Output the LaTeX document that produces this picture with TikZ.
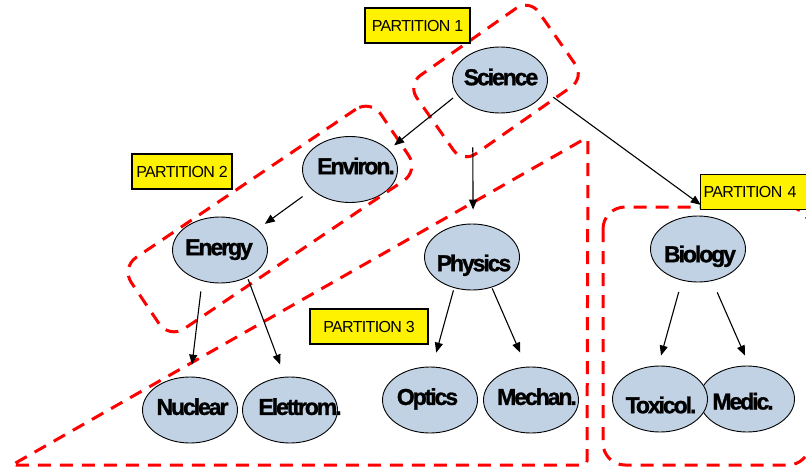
\documentclass[tikz,border=0pt]{standalone}
\usepackage{fontspec}
\setmainfont{Liberation Sans}
\newfontfamily\conceptfont[LetterSpace=-9, BoldFeatures={FakeBold=1.2}]{Liberation Sans}
\newfontfamily\tagfont[LetterSpace=-4]{Liberation Sans}
\usetikzlibrary{shapes.geometric,arrows.meta}
\definecolor{conceptblue}{RGB}{192,210,228}
% text of zero size: cap line centred on the node, then moved right by #1/2 and down by #2
\newcommand\ctext[3]{\makebox[0pt]{\hspace*{#1}\raisebox{\dimexpr -8.2pt-#2\relax}[0pt][0pt]{#3}}}
\tikzset{
  concept/.style={ellipse, draw=black, line width=0.9pt, fill=conceptblue,
    minimum width=95pt, minimum height=66pt, inner sep=0pt,
    font=\conceptfont\bfseries\fontsize{23}{23}\selectfont},
  tag/.style={draw=black, line width=1.2pt, fill=yellow, minimum height=35pt,
    inner xsep=3pt, inner ysep=0pt, font=\tagfont\fontsize{16}{16}\selectfont},
  region/.style={draw=red, line width=3pt, dash pattern=on 13pt off 9pt},
  link/.style={draw=black, line width=1.1pt, -{Triangle[length=10pt,width=8pt]}}
}
\begin{document}
\begin{tikzpicture}[x=1pt,y=-1pt]
\clip (0,0) rectangle (806,474);
\fill[white] (0,0) rectangle (806,474);

% concepts
\node[concept] (sci) at (500,80)    {\ctext{2pt}{-3pt}{Science}};
\node[concept] (env) at (350,169.5) {\ctext{12pt}{-3.5pt}{Environ.}};
\node[concept] (ene) at (220,250)   {\ctext{-2pt}{-3pt}{Energy}};
\node[concept] (phy) at (472,257)   {\ctext{4pt}{6pt}{Physics}};
\node[concept] (nuc) at (190,410)   {\ctext{5pt}{-3.3pt}{Nuclear}};
\node[concept] (ele) at (290,410)   {\ctext{20pt}{-3.3pt}{Elettrom.}};
\node[concept] (opt) at (430,400)   {\ctext{-5pt}{-3.3pt}{Optics}};
\node[concept] (mec) at (531,400)   {\ctext{12pt}{-3.3pt}{Mechan.}};
\node[concept] (bio) at (698,249)   {\ctext{4pt}{5pt}{Biology}};
\node[concept] (med) at (747,399)   {\ctext{-8pt}{2.3pt}{Medic.}};
\node[concept] (tox) at (660,399)   {\ctext{2pt}{6pt}{Toxicol.}};

% partitions
\node[region, rectangle, rounded corners=16pt, rotate=35,
      minimum width=149pt, minimum height=96pt] (p1) at (496,81) {};
\node[region, rectangle, rounded corners=18pt, rotate=34,
      minimum width=301pt, minimum height=86pt] (p2) at (270,219) {};
\draw[region, rounded corners=4pt] (12,465) coordinate (p3a)
  -- (588,137) coordinate (p3b) -- (587,465) coordinate (p3c) -- cycle;
\draw[region, rounded corners=22pt] (603,207) coordinate (p4a)
  rectangle (810,465) coordinate (p4b);

% links
\draw[link, shorten <=5pt,  shorten >=7pt]  (sci.199.6) -- (env.27);
\draw[link, shorten <=40pt, shorten >=14pt] (sci.225) -- (phy.88);
\draw[link, shorten <=10pt, shorten >=25pt] (sci.346) -- (bio.52.5);
\draw[link, shorten <=11.5pt, shorten >=9pt] (env.208.6) -- (ene.29.7);
\draw[link, shorten <=10.5pt, shorten >=12pt] (ene.240) -- (nuc.89);
\draw[link, shorten <=2pt,  shorten >=13pt] (ene.315) -- (ele.99.5);
\draw[link, shorten <=2.4pt, shorten >=14.5pt] (phy.240.5) -- (opt.86.5);
\draw[link, shorten <=1pt,  shorten >=15.4pt] (phy.303) -- (mec.98.5);
\draw[link, shorten <=12pt, shorten >=10.4pt] (bio.243.3) -- (tox.93);
\draw[link, shorten <=12.5pt, shorten >=11pt] (bio.294) -- (med.86);

% partition tags
\node[tag, minimum width=105pt] (t1) at (417.5,25.5) {PARTITION 1};
\node[tag, minimum width=100pt] (t2) at (182,171.5) {PARTITION 2};
\node[tag, minimum width=118pt] (t3) at (369,326.5) {PARTITION 3};
\node[tag, anchor=west, text width=102pt, align=left] (t4) at (700,192) {PARTITION 4};
\end{tikzpicture}
\end{document}
